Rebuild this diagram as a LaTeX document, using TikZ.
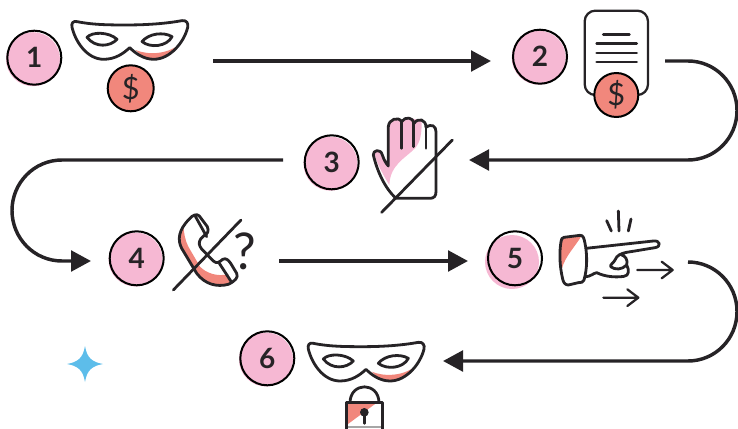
\documentclass[tikz,border=0pt]{standalone}
\usepackage{fontspec}
\setmainfont{Lato}
\usetikzlibrary{arrows.meta}
\definecolor{ink}{HTML}{262326}
\definecolor{pinkf}{HTML}{F6B8D3}
\definecolor{salmon}{HTML}{F1877C}
\definecolor{sky}{HTML}{5DBDEA}
\tikzset{
  zoomed/.style={x=.25pt,y=-.25pt},
  icon/.style={draw=ink,line width=2.1pt,line cap=round,line join=round},
  thin icon/.style={draw=ink,line width=1.7pt,line cap=round,line join=round},
  flow/.style={draw=ink,line width=2.6pt,-{Triangle[length=15pt,width=15.5pt]}},
  stepnode/.style={circle,draw=black,line width=1.5pt,minimum size=40.5pt,inner sep=0pt,text=ink,font=\fontsize{21}{21}\selectfont\bfseries},
  coin/.style={circle,draw=black,line width=1.5pt,fill=salmon,minimum size=33pt,inner sep=0pt,text=ink,font=\fontsize{23}{23}\selectfont},
  mask/.pic={
    \begin{scope}[zoomed]
      \fill[white] (250,55) .. controls (300,65) and (350,65) .. (400,65) .. controls (450,65) and (510,62) .. (565,52) .. controls (578,50) and (585,60) .. (582,72) .. controls (572,115) and (530,168) .. (480,168) .. controls (450,168) and (425,150) .. (408,133) .. controls (390,150) and (365,168) .. (330,168) .. controls (280,168) and (245,115) .. (235,72) .. controls (232,60) and (238,52) .. (250,55) -- cycle;
      \fill[salmon] (425,140) .. controls (460,155) and (520,155) .. (558,122) .. controls (535,150) and (510,168) .. (480,168) .. controls (455,168) and (440,155) .. (425,140) -- cycle;
      \draw[icon] (250,55) .. controls (300,65) and (350,65) .. (400,65) .. controls (450,65) and (510,62) .. (565,52) .. controls (578,50) and (585,60) .. (582,72) .. controls (572,115) and (530,168) .. (480,168) .. controls (450,168) and (425,150) .. (408,133) .. controls (390,150) and (365,168) .. (330,168) .. controls (280,168) and (245,115) .. (235,72) .. controls (232,60) and (238,52) .. (250,55) -- cycle;
      \draw[icon] (280,102) .. controls (295,85) and (345,85) .. (370,108) .. controls (350,130) and (305,135) .. (280,102) -- cycle;
      \draw[icon] (445,115) .. controls (465,90) and (510,85) .. (535,100) .. controls (520,130) and (470,135) .. (445,115) -- cycle;
    \end{scope}
  }
}
\begin{document}
\begin{tikzpicture}[x=.75pt,y=-.75pt]
\useasboundingbox (0,0) rectangle (738,428);
% pink discs under the numbered circles
\fill[pinkf] (33,59.2) circle (27);
\fill[pinkf] (538.7,57.7) circle (27);
\fill[pinkf] (330.5,163.7) circle (27);
\fill[pinkf] (135.5,259.5) circle (27);
\fill[pinkf] (512,262) circle (27);
\fill[pinkf] (266,359.5) circle (27);
\node[stepnode] (s1) at (34.3,57.7) {1};
\node[stepnode] (s2) at (540,56.7) {2};
\node[stepnode] (s3) at (331.7,162.3) {3};
\node[stepnode] (s4) at (136.7,258.3) {4};
\node[stepnode] (s5) at (515,258.3) {5};
\node[stepnode] (s6) at (267.3,358.3) {6};
% mask 1
\pic at (-6.3,3.3) {mask};
\node[coin,minimum size=34.5pt] (c1) at (130.7,88.3) {\$};
% document
\begin{scope}[shift={(500,0)},zoomed]
  \draw[icon,line width=1.7pt,fill=white,rounded corners=8pt] (254,32) rectangle (444,285);
  \draw[icon] (310,103) -- (388,103) (290,131) -- (410,131) (290,159) -- (410,159) (290,186) -- (410,186);
\end{scope}
\node[coin] (c2) at (616.3,95) {\$};
% hand
\begin{scope}[shift={(290,110)},zoomed]
  \fill[pinkf] (296,45) .. controls (300,30) and (320,22) .. (335,30) .. controls (350,20) and (375,25) .. (395,35) .. controls (395,70) and (392,95) .. (375,115) .. controls (345,145) and (300,165) .. (298,225) .. controls (280,195) and (262,165) .. (252,128) .. controls (260,118) and (272,118) .. (278,135) -- (292,170) -- cycle;
  \draw[icon] (295,168) -- (295,50) .. controls (296,28) and (325,18) .. (335,35) .. controls (345,18) and (370,22) .. (372,40) .. controls (385,22) and (408,28) .. (408,52) .. controls (425,40) and (438,48) .. (438,65) -- (438,245) .. controls (438,258) and (432,265) .. (420,265) -- (318,265) .. controls (285,235) and (262,185) .. (250,135) .. controls (248,120) and (272,115) .. (277,135) .. controls (282,150) and (288,160) .. (295,168);
  \draw[icon] (335,35) -- (335,115) (371,40) -- (371,110) (408,52) -- (408,115);
  \draw[icon] (275,307) -- (487,90);
\end{scope}
% phone
\begin{scope}[shift={(100,205)},zoomed]
  \fill[salmon] (250,62) .. controls (235,85) and (235,110) .. (245,130) -- (290,205) .. controls (320,240) and (350,245) .. (392,238) -- (385,208) .. controls (350,215) and (320,205) .. (300,185) -- (265,125) .. controls (255,105) and (252,85) .. (250,62) -- cycle;
  \draw[icon] (268,42) .. controls (278,30) and (290,25) .. (298,33) -- (322,65) .. controls (328,78) and (322,88) .. (312,92) -- (302,102) .. controls (295,112) and (297,122) .. (305,132) -- (340,168) .. controls (350,177) and (358,172) .. (368,163) .. controls (378,158) and (385,165) .. (392,175) -- (410,205) .. controls (416,218) and (405,228) .. (385,238) .. controls (350,247) and (315,238) .. (290,205) -- (245,130) .. controls (232,105) and (235,75) .. (268,42) -- cycle;
  \draw[icon] (285,32) -- (320,95) (358,175) -- (395,232);
  \draw[icon] (220,255) -- (423,45);
  \node[text=ink,font=\fontsize{38}{38}\selectfont] (q) at (435,138) {?};
\end{scope}
% pointing hand
\begin{scope}[shift={(480,205)},zoomed]
  \fill[salmon] (250,97) -- (305,92) .. controls (285,125) and (255,155) .. (246,190) .. controls (240,165) and (240,125) .. (250,97) -- cycle;
  \draw[icon] (252,97) -- (300,91) .. controls (310,90) and (312,100) .. (315,115) .. controls (322,150) and (322,190) .. (312,225) .. controls (310,232) and (305,232) .. (295,233) -- (265,240) .. controls (255,240) and (250,232) .. (248,222) .. controls (238,180) and (238,140) .. (243,110) .. controls (244,102) and (246,98) .. (252,97) -- cycle;
  \draw[icon] (318,130) -- (520,108) .. controls (540,105) and (545,125) .. (525,128) -- (440,142) .. controls (425,145) and (410,150) .. (405,165) .. controls (400,175) and (390,178) .. (392,185) .. controls (405,195) and (425,195) .. (440,180) .. controls (445,165) and (435,152) .. (425,150);
  \draw[icon] (440,180) .. controls (448,195) and (448,212) .. (432,214) .. controls (405,218) and (375,215) .. (350,203) .. controls (340,205) and (330,215) .. (318,215);
  \draw[icon] (380,47) -- (394,78) (415,18) -- (417,78) (453,42) -- (445,78);
  \draw[thin icon] (472,195) -- (578,195) (545,170) -- (578,195) -- (545,220);
  \draw[thin icon] (370,278) -- (475,278) (442,253) -- (475,278) -- (442,303);
\end{scope}
% mask 6 and lock
\pic at (230,325) {mask};
\begin{scope}[shift={(230,325)},zoomed]
  \fill[salmon] (350,232) -- (442,232) -- (350,300) -- cycle;
  \draw[icon] (360,232) .. controls (362,170) and (445,170) .. (447,232);
  \draw[draw=gray!70,line width=1pt] (349,306) -- (456,306);
  \draw[icon] (349,312) -- (349,232) -- (458,232) -- (458,312);
  \fill[ink] (403,262) circle (13);
  \draw[icon] (403,265) -- (403,295);
\end{scope}
% star
\fill[sky] (85,346) .. controls (87,358) and (92,362) .. (103,364) .. controls (92,366) and (87,370) .. (85,382) .. controls (83,370) and (78,366) .. (67,364) .. controls (78,362) and (83,358) .. (85,346) -- cycle;
% connectors
\coordinate (a1s) at (213,61); \coordinate (a1e) at (491,61);
\coordinate (a2s) at (665,61); \coordinate (a2e) at (469,160);
\coordinate (a3s) at (283,160); \coordinate (a3e) at (91,261);
\coordinate (a4s) at (279,261); \coordinate (a4e) at (468,261);
\coordinate (a5s) at (688,262); \coordinate (a5e) at (443,361);
\draw[flow] (a1s) -- (a1e);
\draw[flow] (a2s) -- (688,61) .. controls (715,61) and (737,83) .. (737,110.5) .. controls (737,138) and (715,160) .. (688,160) -- (a2e);
\draw[flow] (a3s) -- (62,160) .. controls (34,160) and (12,183) .. (12,210.5) .. controls (12,238) and (34,261) .. (62,261) -- (a3e);
\draw[flow] (a4s) -- (a4e);
\draw[flow] (a5s) .. controls (715,262) and (737,284) .. (737,311.5) .. controls (737,339) and (715,361) .. (688,361) -- (a5e);
\end{tikzpicture}
\end{document}
